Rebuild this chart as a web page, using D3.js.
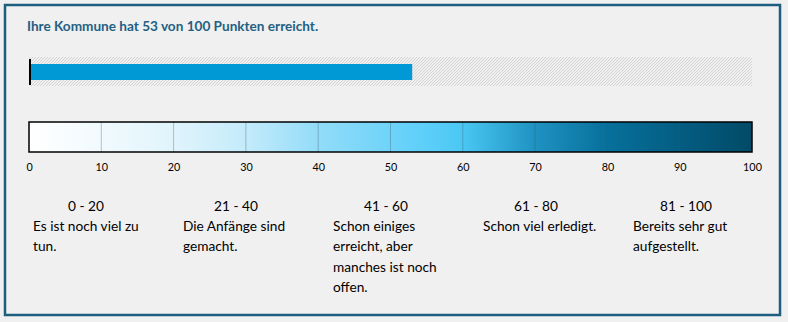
<!DOCTYPE html>
<html>
<head>
<meta charset="utf-8">
<script src="https://cdn.jsdelivr.net/npm/d3@7"></script>
<style>
  html, body { margin: 0; padding: 0; background: #f0f0f0; }
  svg { display: block; }
  text { font-family: Lato, "Open Sans", sans-serif; }
</style>
</head>
<body>
<svg id="chart" width="788" height="322"></svg>
<script>
// ---- data ----
const score = 53;
const maxScore = 100;
const titleText = "Ihre Kommune hat 53 von 100 Punkten erreicht.";
const tickValues = [0, 10, 20, 30, 40, 50, 60, 70, 80, 90, 100];
const rangeLabels = ["0 - 20", "21 - 40", "41 - 60", "61 - 80", "81 - 100"];
const rangeTexts = [
  ["Es ist noch viel zu", "tun."],
  ["Die Anfänge sind", "gemacht."],
  ["Schon einiges", "erreicht, aber", "manches ist noch", "offen."],
  ["Schon viel erledigt."],
  ["Bereits sehr gut", "aufgestellt."]
];
const gradientStops = [
  [0.00, "#ffffff"],
  [0.10, "#f1fafe"],
  [0.20, "#e0f4fc"],
  [0.30, "#c4ebfb"],
  [0.40, "#92dcf9"],
  [0.55, "#5ccff9"],
  [0.60, "#4ac7f3"],
  [0.70, "#1f92c2"],
  [0.80, "#07709b"],
  [0.90, "#045d82"],
  [1.00, "#024a67"]
];

// ---- drawing ----
const svg = d3.select("#chart");
const defs = svg.append("defs");

const hatch = defs.append("pattern")
  .attr("id", "hatch").attr("patternUnits", "userSpaceOnUse")
  .attr("width", 3).attr("height", 3);
hatch.append("rect").attr("width", 3).attr("height", 3).attr("fill", "#f0f0f0");
hatch.append("path").attr("d", "M-1,1 L1,-1 M0,3 L3,0 M2,4 L4,2")
  .attr("stroke", "#d4d4d4").attr("stroke-width", 1);

const grad = defs.append("linearGradient").attr("id", "scaleGrad")
  .attr("x1", "0%").attr("x2", "100%").attr("y1", "0%").attr("y2", "0%");
grad.selectAll("stop").data(gradientStops).join("stop")
  .attr("offset", d => d[0]).attr("stop-color", d => d[1]);

// frame
svg.append("rect").attr("x", 5).attr("y", 5).attr("width", 775).attr("height", 310)
  .attr("fill", "#f0f0f0").attr("stroke", "#1d5e7e").attr("stroke-width", 2.5);

// title
svg.append("text").attr("x", 27).attr("y", 31)
  .attr("font-size", 13.6).attr("font-weight", "bold").attr("fill", "#1f6184")
  .text(titleText);

const x = d3.scaleLinear().domain([0, maxScore]).range([29, 752]);

// progress bar
svg.append("rect").attr("x", x(0)).attr("y", 57)
  .attr("width", x(maxScore) - x(0)).attr("height", 29).attr("fill", "url(#hatch)");
svg.append("rect").attr("x", x(0) + 2).attr("y", 64)
  .attr("width", x(score) - x(0) - 2).attr("height", 16).attr("fill", "#0099d5");
svg.append("rect").attr("x", x(0)).attr("y", 59)
  .attr("width", 2).attr("height", 26).attr("fill", "#000");

// gradient scale
const gTop = 122, gH = 30;
svg.append("rect").attr("x", x(0)).attr("y", gTop)
  .attr("width", x(maxScore) - x(0)).attr("height", gH).attr("fill", "url(#scaleGrad)");
svg.append("g").selectAll("line").data(tickValues.slice(1, -1)).join("line")
  .attr("x1", d => x(d)).attr("x2", d => x(d))
  .attr("y1", gTop).attr("y2", gTop + gH)
  .attr("stroke", "rgba(60,90,110,0.35)").attr("stroke-width", 1);
svg.append("rect").attr("x", x(0)).attr("y", gTop)
  .attr("width", x(maxScore) - x(0)).attr("height", gH)
  .attr("fill", "none").attr("stroke", "#000").attr("stroke-width", 1.5);

const axis = d3.axisBottom(x).tickValues(tickValues).tickSize(0).tickPadding(0);
const axG = svg.append("g").attr("transform", `translate(0,${163})`).call(axis);
axG.select(".domain").remove();
axG.selectAll("text").attr("font-family", "Lato, sans-serif")
  .attr("font-size", 10.8).attr("fill", "#000").attr("dy", "0.71em");

// legend
const col = d3.scaleBand().domain(rangeLabels).range([33, 783]).paddingInner(0);
const lg = svg.append("g").selectAll("g").data(rangeLabels).join("g")
  .attr("transform", d => `translate(${col(d)},0)`);
lg.append("text").attr("x", 53).attr("y", 210.5).attr("text-anchor", "middle")
  .attr("font-size", 13.7).attr("fill", "#000").text(d => d);
lg.each(function(d, i) {
  d3.select(this).selectAll("text.line").data(rangeTexts[i]).join("text")
    .attr("class", "line").attr("x", 0).attr("y", (t, j) => 231 + j * 20.3)
    .attr("font-size", 13.7).attr("fill", "#000").text(t => t);
});
</script>
</body>
</html>
